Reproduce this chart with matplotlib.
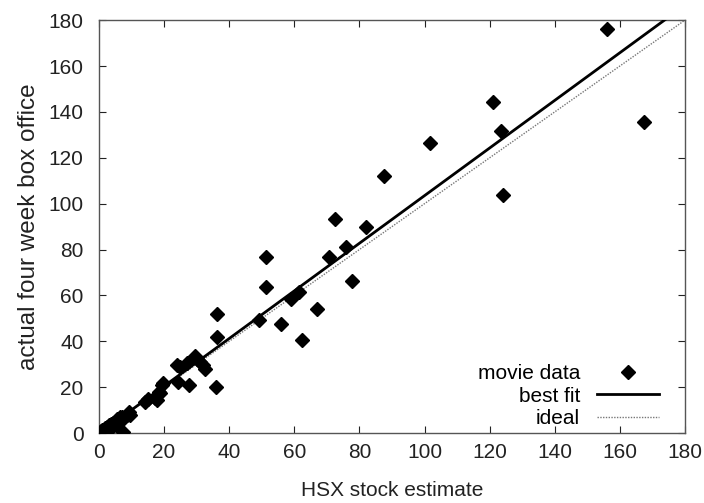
import matplotlib
matplotlib.use("Agg")
import matplotlib.pyplot as plt
import numpy as np

plt.rcParams['font.family'] = ['Liberation Sans', 'DejaVu Sans']

# data (HSX stock estimate vs actual four-week box office)
hsx = [0.3, 0.5, 0.8, 1.0, 1.2, 1.5, 1.8, 2.0, 2.2, 2.5, 2.8, 3.0, 3.3, 3.6, 4.0,
       4.3, 4.8, 5.2, 5.5, 6.0, 6.5, 7.0, 7.4, 7.8, 8.5, 9.2, 9.6,
       14.2, 15.0, 17.2, 17.7, 18.3, 18.8, 19.3, 19.8, 24.4, 24.9, 24.0, 27.0,
       27.5, 29.5, 30.0, 31.0, 32.1, 32.5, 35.8, 36.2, 36.4, 49.3, 51.2, 51.2,
       55.9, 59.0, 61.3, 62.5, 66.9, 70.6, 72.6, 75.9, 77.8, 82.1, 87.5, 101.6,
       121.1, 123.5, 124.0, 156.0, 167.4]
actual = [0.2, 0.8, 0.3, 1.5, 0.5, 1.0, 2.0, 0.8, 1.5, 2.8, 1.2, 3.5, 2.0, 4.0, 2.8,
          4.5, 5.0, 3.5, 6.0, 5.2, 6.8, 7.2, 0.3, 6.5, 8.0, 9.0, 7.8,
          13.7, 15.0, 15.2, 14.4, 18.0, 17.5, 20.9, 22.0, 22.4, 28.9, 29.6, 30.4,
          20.9, 33.5, 32.5, 31.0, 29.6, 28.0, 20.3, 41.8, 51.8, 49.4, 76.9, 63.5,
          47.7, 58.3, 61.6, 40.4, 54.0, 76.9, 93.3, 81.2, 66.3, 89.7, 112.0, 126.5,
          144.4, 131.6, 103.7, 176.0, 135.6]
fit_slope = 1.038
fit_intercept = -0.3
line_x = [0, 180]

fig = plt.figure(figsize=(7.04, 5.03), dpi=100)
ax = fig.add_axes([0.1406, 0.139, 0.8324, 0.821])

lx = np.array(line_x, dtype=float)
ax.plot(lx, lx, color='#777777', lw=1.0, ls=(0, (1, 1)), label='ideal', zorder=2)
ax.plot(lx, fit_slope * lx + fit_intercept, color='black', lw=2.0, label='best fit', zorder=3)
ax.plot(hsx, actual, ls='none', marker='D', ms=7, color='black', label='movie data', zorder=4)

ax.set_xlim(0, 180)
ax.set_ylim(0, 180)
ax.set_xticks(np.arange(0, 181, 20))
ax.set_yticks(np.arange(0, 181, 20))
ax.tick_params(direction='in', length=5, width=0.8, top=True, right=True,
               labelsize=15, colors='#222222')
ax.tick_params(axis='x', pad=7)
ax.tick_params(axis='y', pad=11)
for s in ax.spines.values():
    s.set_color('#555555')
    s.set_linewidth(1.0)

ax.set_xlabel('HSX stock estimate', fontsize=15, color='#222222', labelpad=14)
ax.set_ylabel('actual four week box office', fontsize=17.5, color='#222222', labelpad=6)

h, l = ax.get_legend_handles_labels()
order = [2, 1, 0]
ax.legend([h[i] for i in order], [l[i] for i in order], loc='lower right',
          markerfirst=False, frameon=False, fontsize=15, handlelength=3.0,
          labelspacing=0.17, borderaxespad=0.0, borderpad=0.0, handletextpad=0.8,
          bbox_to_anchor=(0.956, 0.012))

fig.savefig('out.png', dpi=100)
